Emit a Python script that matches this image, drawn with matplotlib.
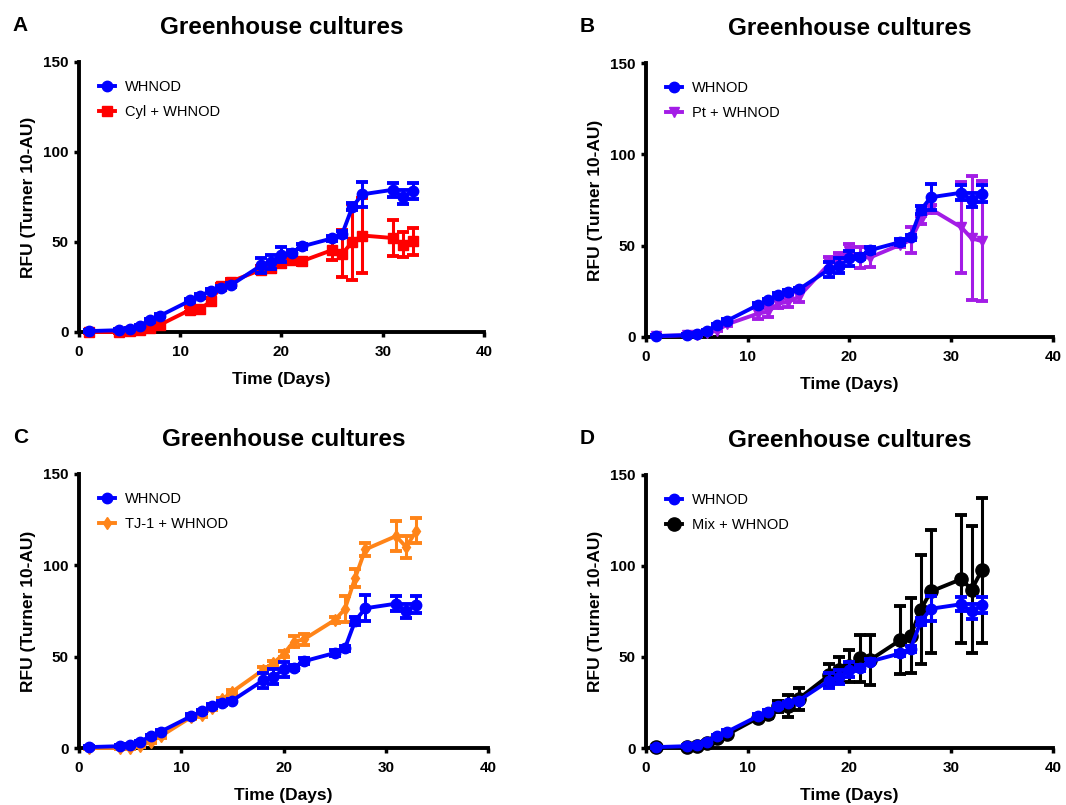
import matplotlib.pyplot as plt

plt.rcParams['font.family'] = ['Liberation Sans', 'DejaVu Sans']

# sampling days shared by every series
days = [1, 4, 5, 6, 7, 8, 11, 12, 13, 14, 15, 18, 19, 20, 21, 22, 25, 26, 27, 28, 31, 32, 33]

# WHNOD alone (same control in all four panels)
whnod = [0.5, 1, 1.5, 3.5, 6.5, 9, 17.5, 20, 23, 24.5, 26, 37, 39, 43, 44, 47.5,
         52, 54.5, 69.5, 76.5, 79, 75, 78.5]
whnod_err = [0.5, 0.5, 0.5, 0.5, 0.8, 0.8, 1, 1, 1, 1, 1, 4.3, 4, 4, 1.5, 1.5,
             1.5, 1.5, 2, 7, 4, 4, 4.5]

# Cyl + WHNOD
cyl = [0, 0, 0.3, 1, 2, 4, 12.4, 12.8, 17, 25.4, 28, 34.6, 35.5, 38.3, 40.2, 39.3,
       45.5, 43.5, 50, 53.6, 52.2, 48.5, 50.3]
cyl_err = [0.3, 0.3, 0.3, 0.5, 0.5, 1, 1.5, 1.5, 2, 1.5, 1.5, 2, 2, 2, 1.5, 2,
           5.5, 13, 21, 21, 10, 7, 7.5]

# Pt + WHNOD
pt = [0.5, 1, 1, 2, 3.5, 7, 12.8, 13.8, 18.3, 19.2, 22, 40, 42, 47, 43.5, 43.5,
      50.5, 53, 64, 70, 60, 54, 52.5]
pt_err = [0.5, 0.5, 0.5, 0.5, 0.5, 1, 3, 3, 2.5, 3, 3, 4, 4, 4, 6, 5,
          1.5, 7, 2, 2, 25, 34, 33]

# TJ-1 + WHNOD
tj1 = [0, 0, 0, 1, 3.5, 6.5, 17, 18, 22, 26.6, 30.8, 42.7, 46.4, 51.4, 58.2, 59.5,
       70, 76, 93, 108.7, 116, 110, 119]
tj1_err = [0.3, 0.3, 0.3, 0.5, 0.8, 1, 1, 1, 1, 1, 1, 1.5, 1.5, 1.5, 3, 3,
           1.5, 7, 5, 3.5, 8, 6, 7]

# Mix + WHNOD
mix = [0.5, 0.5, 1, 3, 5.5, 7.5, 16.5, 18.5, 23, 23, 27, 40, 42.8, 45, 49.2, 48.3,
       59.3, 61.6, 76, 86, 92.8, 87, 97.6]
mix_err = [0.5, 0.5, 0.5, 1, 1, 1, 1.5, 2, 3, 6, 6, 6, 7, 8.7, 12.8, 13.7,
           18.7, 20.6, 30, 34, 35, 35, 40]

BLUE = '#0000FF'

panels = [
    ('A', 'Cyl + WHNOD', cyl, cyl_err, '#FF0000', 's', 7, [0.0741, 0.5876, 0.3799, 0.3354]),
    ('B', 'Pt + WHNOD', pt, pt_err, '#A31CE6', 'v', 7.5, [0.606, 0.5814, 0.3818, 0.3403]),
    ('C', 'TJ-1 + WHNOD', tj1, tj1_err, '#FF8418', 'd', 6.5, [0.0741, 0.0708, 0.3837, 0.3404]),
    ('D', 'Mix + WHNOD', mix, mix_err, '#000000', 'o', 9.5, [0.606, 0.0708, 0.3818, 0.3392]),
]

fig = plt.figure(figsize=(10.66, 8.05), dpi=100)


def draw_series(ax, y, err, color, marker, ms, label, z):
    ax.errorbar(days, y, yerr=err, fmt='none', ecolor=color, elinewidth=2.2,
                capsize=4.5, capthick=2.8, zorder=z, clip_on=False)
    ax.plot(days, y, color=color, marker=marker, markersize=ms, linewidth=2.8,
            markeredgecolor=color, label=label, zorder=z + 0.5, clip_on=False)


for letter, name, y, err, color, marker, ms, rect in panels:
    ax = fig.add_axes(rect)
    draw_series(ax, y, err, color, marker, ms, name, 3)
    draw_series(ax, whnod, whnod_err, BLUE, 'o', 7.5, 'WHNOD', 5)

    ax.set_xlim(0, 40)
    ax.set_ylim(0, 150)
    ax.set_xticks([0, 10, 20, 30, 40])
    ax.set_yticks([0, 50, 100, 150])
    for side in ('top', 'right'):
        ax.spines[side].set_visible(False)
    for side in ('left', 'bottom'):
        ax.spines[side].set_linewidth(2.8)
    ax.tick_params(direction='out', length=3.5, width=2.5, labelsize=11)
    ax.tick_params(axis='x', pad=6)
    ax.tick_params(axis='y', pad=4)
    for lab in ax.get_xticklabels() + ax.get_yticklabels():
        lab.set_fontweight('bold')

    ax.set_xlabel('Time (Days)', fontsize=12.5, fontweight='bold', labelpad=9)
    ax.set_ylabel('RFU (Turner 10-AU)', fontsize=12.5, fontweight='bold', labelpad=5)
    ax.set_title('Greenhouse cultures', fontsize=17.5, fontweight='bold', pad=20)

    handles, labels = ax.get_legend_handles_labels()
    ax.legend(handles[::-1], labels[::-1], loc='upper left', bbox_to_anchor=(0.035, 0.955),
              frameon=False, fontsize=10.5, handlelength=1.1, handletextpad=0.7,
              labelspacing=0.75, borderaxespad=0)

    pos = ax.get_position()
    fig.text(0.012 if pos.x0 < 0.5 else 0.544, pos.y1 + 0.039, letter,
             fontsize=15, fontweight='bold', ha='left', va='baseline')

fig.savefig('out.png', dpi=100)
